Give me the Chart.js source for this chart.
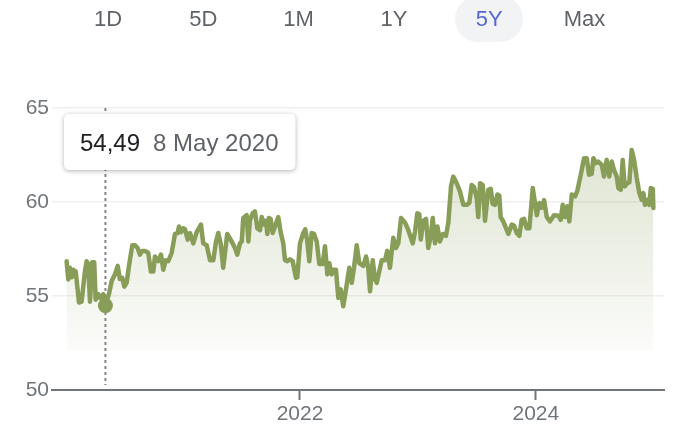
<!DOCTYPE html>
<html>
<head>
<meta charset="utf-8">
<script src="https://cdn.jsdelivr.net/npm/chart.js@4.4.1/dist/chart.umd.min.js"></script>
<style>
  html, body { margin: 0; padding: 0; background: #fff; }
  body { width: 684px; height: 444px; position: relative; overflow: hidden; font-family: "Liberation Sans", Arial, sans-serif; }
  #ranges { position: absolute; top: 0; left: 0; width: 684px; height: 46px; z-index: 2; }
  .range { position: absolute; top: -4px; width: 68px; height: 46px; margin-left: -34px; line-height: 46px; text-align: center; font-size: 22px; color: #5f6368; border-radius: 23px; }
  .range.active { background: #f1f3f4; color: #5865d0; }
  #chart { position: absolute; top: 0; left: 0; }
</style>
</head>
<body>
<div id="ranges"></div>
<canvas id="chart" width="684" height="444"></canvas>
<script>
// Botones de rango
const ranges = ['1D', '5D', '1M', '1Y', '5Y', 'Max'];
const activeRange = '5Y';

// Fechas (años decimales) y precios
const dates = [
  2020.021, 2020.035, 2020.049, 2020.064, 2020.077, 2020.098, 2020.126, 2020.148, 2020.176, 2020.191,
  2020.204, 2020.219, 2020.238, 2020.255, 2020.267, 2020.289, 2020.304, 2020.332, 2020.350, 2020.380,
  2020.403, 2020.431, 2020.454, 2020.473, 2020.493, 2020.510, 2020.530, 2020.550, 2020.578, 2020.601,
  2020.623, 2020.643, 2020.662, 2020.685, 2020.713, 2020.736, 2020.756, 2020.770, 2020.798, 2020.821,
  2020.841, 2020.861, 2020.883, 2020.912, 2020.940, 2020.963, 2020.974, 2020.991, 2021.010, 2021.025,
  2021.048, 2021.067, 2021.095, 2021.124, 2021.160, 2021.180, 2021.209, 2021.237, 2021.265, 2021.288,
  2021.307, 2021.327, 2021.349, 2021.383, 2021.421, 2021.449, 2021.468, 2021.491, 2021.506, 2021.519,
  2021.548, 2021.562, 2021.576, 2021.599, 2021.618, 2021.638, 2021.661, 2021.675, 2021.695, 2021.712,
  2021.723, 2021.737, 2021.751, 2021.768, 2021.788, 2021.816, 2021.836, 2021.858, 2021.873, 2021.892,
  2021.915, 2021.938, 2021.966, 2021.977, 2022.000, 2022.028, 2022.045, 2022.062, 2022.079, 2022.099,
  2022.119, 2022.142, 2022.164, 2022.193, 2022.212, 2022.232, 2022.249, 2022.269, 2022.282, 2022.305,
  2022.325, 2022.345, 2022.367, 2022.390, 2022.418, 2022.439, 2022.458, 2022.481, 2022.503, 2022.537,
  2022.560, 2022.579, 2022.594, 2022.617, 2022.636, 2022.651, 2022.693, 2022.721, 2022.740, 2022.763,
  2022.791, 2022.814, 2022.834, 2022.857, 2022.891, 2022.919, 2022.956, 2022.975, 2022.995, 2023.012,
  2023.024, 2023.046, 2023.069, 2023.088, 2023.109, 2023.126, 2023.145, 2023.165, 2023.187, 2023.210,
  2023.238, 2023.258, 2023.281, 2023.300, 2023.329, 2023.357, 2023.385, 2023.414, 2023.436, 2023.456,
  2023.476, 2023.499, 2023.512, 2023.527, 2023.550, 2023.569, 2023.597, 2023.618, 2023.634, 2023.654,
  2023.674, 2023.690, 2023.702, 2023.724, 2023.767, 2023.796, 2023.815, 2023.838, 2023.860, 2023.880,
  2023.900, 2023.923, 2023.945, 2023.974, 2024.008, 2024.030, 2024.050, 2024.070, 2024.093, 2024.120,
  2024.154, 2024.191, 2024.211, 2024.228, 2024.248, 2024.267, 2024.284, 2024.305, 2024.333, 2024.352,
  2024.381, 2024.409, 2024.432, 2024.451, 2024.474, 2024.488, 2024.511, 2024.530, 2024.559, 2024.578,
  2024.601, 2024.623, 2024.644, 2024.663, 2024.686, 2024.700, 2024.720, 2024.737, 2024.754, 2024.776,
  2024.793, 2024.813, 2024.833, 2024.856, 2024.878, 2024.898, 2024.912, 2024.926, 2024.946, 2024.963,
  2024.975, 2024.992, 2024.997
];
const prices = [
  56.85, 55.88, 56.50, 56.00, 56.40, 56.30, 54.65, 54.70, 56.30, 56.85,
  56.70, 54.70, 56.80, 56.80, 54.80, 55.10, 54.90, 55.10, 54.49, 55.10,
  55.80, 56.15, 56.60, 55.90, 55.96, 55.50, 55.70, 56.60, 57.70, 57.70,
  57.55, 57.20, 57.40, 57.40, 57.30, 56.30, 56.30, 57.10, 56.85, 57.20,
  56.40, 56.90, 56.85, 57.30, 58.30, 58.35, 58.70, 58.40, 58.60, 58.55,
  58.00, 58.35, 57.80, 58.40, 58.80, 57.80, 57.70, 56.90, 56.90, 57.90,
  58.35, 57.80, 56.50, 58.30, 57.90, 57.55, 57.20, 57.80, 57.90, 59.15,
  59.30, 57.90, 59.05, 59.40, 59.50, 58.60, 58.50, 59.20, 58.80, 59.00,
  58.30, 59.15, 59.10, 58.35, 58.70, 59.20, 58.40, 57.80, 56.90, 56.85,
  56.95, 56.85, 55.97, 56.00, 57.80, 58.35, 58.55, 57.90, 56.85, 58.35,
  58.30, 57.90, 56.70, 56.70, 57.65, 56.15, 56.75, 56.15, 56.40, 56.40,
  54.90, 55.35, 54.46, 55.35, 56.50, 55.70, 56.50, 57.70, 56.75, 56.60,
  57.10, 56.50, 55.25, 56.90, 55.90, 55.70, 56.90, 56.90, 57.40, 56.50,
  58.10, 57.55, 57.80, 59.15, 58.90, 58.50, 57.80, 58.40, 59.40, 59.35,
  58.00, 59.00, 59.10, 57.55, 58.20, 59.15, 57.80, 58.70, 57.90, 58.30,
  58.20, 58.90, 60.85, 61.35, 61.00, 60.55, 59.85, 59.85, 59.95, 60.90,
  60.80, 60.20, 59.20, 61.00, 60.90, 59.00, 60.65, 60.70, 59.90, 59.85,
  60.40, 60.35, 59.20, 58.97, 58.30, 58.80, 58.75, 58.35, 58.20, 59.05,
  59.10, 58.60, 58.60, 60.74, 59.30, 59.95, 59.70, 60.10, 59.20, 58.97,
  59.30, 59.27, 59.05, 59.85, 59.20, 59.77, 58.97, 60.40, 60.30, 60.60,
  61.45, 62.33, 62.33, 61.45, 61.50, 62.33, 62.07, 62.15, 61.98, 61.36,
  62.24, 61.36, 62.15, 61.70, 61.36, 60.74, 60.65, 62.24, 60.83, 61.00,
  61.05, 62.77, 62.24, 61.27, 60.47, 60.12, 60.47, 59.85, 60.12, 59.85,
  60.74, 60.70, 59.68
];

// Ejes y punto señalado
const xTicks = [2022, 2024];
const yTicks = [50, 55, 60, 65];
const fillBase = 52.1;
const hoverIndex = 18;
const hoverDate = '8 May 2020';

const lineColor = '#889d58';
const axisColor = '#70757a';
const fontFamily = '"Liberation Sans", Arial, sans-serif';

// Botones de la parte superior
const rangesBox = document.getElementById('ranges');
ranges.forEach((label, i) => {
    const el = document.createElement('div');
    el.className = 'range' + (label === activeRange ? ' active' : '');
    el.style.left = (108 + i * 95.3) + 'px';
    el.textContent = label;
    rangesBox.appendChild(el);
});

// Línea guía y cuadro del punto señalado
const hoverGuide = {
    id: 'hoverGuide',
    beforeDatasetsDraw(chart) {
        const pt = chart.getDatasetMeta(0).data[hoverIndex];
        const { top, bottom } = chart.chartArea;
        const c = chart.ctx;
        c.save();
        c.strokeStyle = '#80868b';
        c.lineWidth = 2;
        c.setLineDash([3, 3]);
        c.beginPath();
        c.moveTo(pt.x, top);
        c.lineTo(pt.x, bottom - 5);
        c.stroke();
        c.restore();
    },
    afterDraw(chart) {
        const c = chart.ctx;
        const valueText = prices[hoverIndex].toFixed(2).replace('.', ',');
        c.save();
        c.font = '24px ' + fontFamily;
        const w1 = c.measureText(valueText).width;
        const w2 = c.measureText(hoverDate).width;
        const padL = 16, padR = 17, gap = 13;
        const boxX = chart.chartArea.left + 12;
        const boxY = chart.chartArea.top + 6;
        const boxW = padL + w1 + gap + w2 + padR;
        const boxH = 56;
        c.shadowColor = 'rgba(0, 0, 0, 0.3)';
        c.shadowBlur = 5;
        c.shadowOffsetY = 1;
        c.fillStyle = '#ffffff';
        c.beginPath();
        c.roundRect(boxX, boxY, boxW, boxH, 5);
        c.fill();
        c.shadowColor = 'transparent';
        c.textBaseline = 'alphabetic';
        c.fillStyle = '#202124';
        c.fillText(valueText, boxX + padL, boxY + 37);
        c.fillStyle = '#5f6368';
        c.fillText(hoverDate, boxX + padL + w1 + gap, boxY + 37);
        c.restore();
    }
};

new Chart(document.getElementById('chart'), {
    type: 'line',
    data: {
        datasets: [{
            data: dates.map((d, i) => ({ x: d, y: prices[i] })),
            borderColor: lineColor,
            borderWidth: 4.5,
            borderJoinStyle: 'round',
            borderCapStyle: 'round',
            tension: 0,
            pointRadius: ctx => ctx.dataIndex === hoverIndex ? 7.5 : 0,
            pointBackgroundColor: lineColor,
            pointBorderWidth: 0,
            fill: { value: fillBase },
            backgroundColor: function(context) {
                const chart = context.chart;
                if (!chart.chartArea) return 'rgba(136, 157, 88, 0.1)';
                const y0 = chart.scales.y.getPixelForValue(63);
                const y1 = chart.scales.y.getPixelForValue(fillBase);
                const g = chart.ctx.createLinearGradient(0, y0, 0, y1);
                g.addColorStop(0, 'rgba(136, 157, 88, 0.28)');
                g.addColorStop(1, 'rgba(136, 157, 88, 0.03)');
                return g;
            }
        }]
    },
    options: {
        responsive: false,
        animation: false,
        events: [],
        layout: { padding: { top: 108, right: 20, bottom: 0, left: 0 } },
        plugins: {
            legend: { display: false },
            tooltip: { enabled: false }
        },
        scales: {
            x: {
                type: 'linear',
                min: 2019.897,
                max: 2025.087,
                afterBuildTicks: axis => { axis.ticks = xTicks.map(v => ({ value: v })); },
                afterFit: axis => { axis.height = 54; },
                ticks: {
                    callback: v => String(v),
                    color: axisColor,
                    font: { family: fontFamily, size: 21 },
                    padding: 2,
                    maxRotation: 0
                },
                grid: {
                    drawOnChartArea: false,
                    drawTicks: true,
                    tickLength: 10,
                    tickColor: axisColor,
                    tickWidth: 2
                },
                border: { display: true, color: axisColor, width: 2 }
            },
            y: {
                min: 50,
                max: 65,
                afterBuildTicks: axis => { axis.ticks = yTicks.map(v => ({ value: v })); },
                afterFit: axis => { axis.width = 52; },
                ticks: {
                    color: axisColor,
                    font: { family: fontFamily, size: 21 },
                    padding: 3
                },
                grid: { color: '#efefef', lineWidth: 1.5, drawTicks: false },
                border: { display: false }
            }
        }
    },
    plugins: [hoverGuide]
});
</script>
</body>
</html>
